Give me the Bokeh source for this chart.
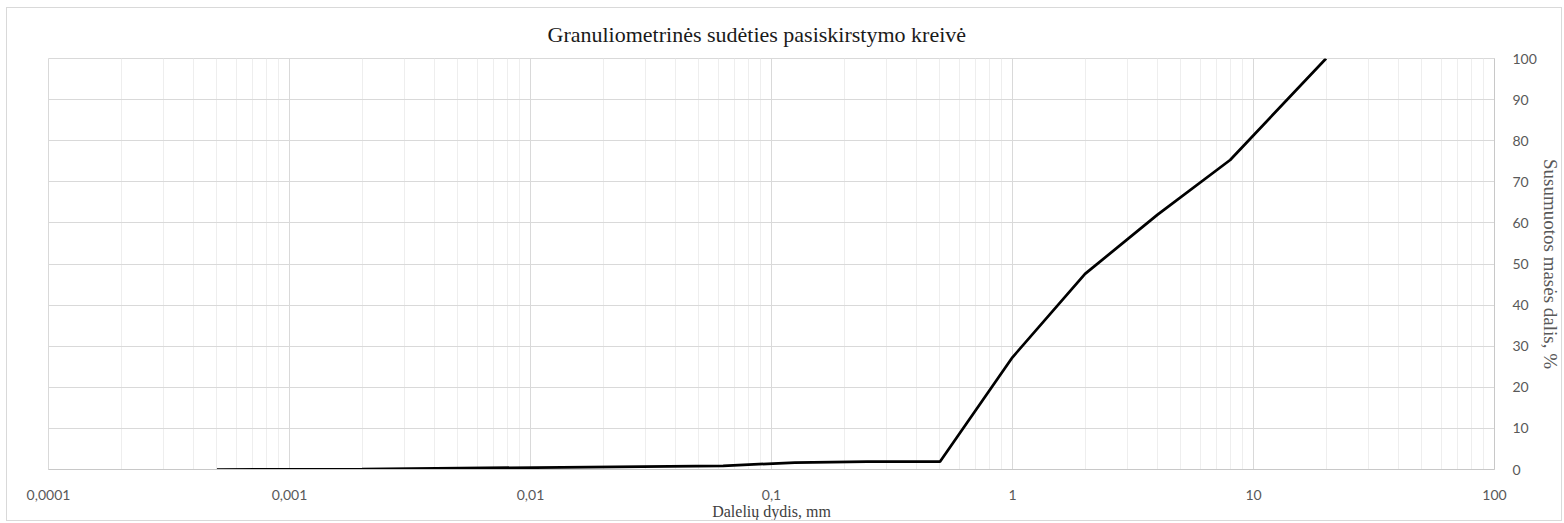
from bokeh.plotting import figure
from bokeh.models import FixedTicker, CustomJSTickFormatter, Range1d
from bokeh.embed import file_html
from bokeh.resources import INLINE

# Data
particle_size_mm = [0.0005, 0.002, 0.063, 0.125, 0.25, 0.5, 1, 2, 4, 8, 20]
cumulative_pct = [0.0, 0.1, 0.9, 1.7, 1.9, 1.9, 27.3, 47.6, 62.0, 75.3, 100.0]

x_ticks = [0.0001, 0.001, 0.01, 0.1, 1, 10, 100]
x_tick_labels = ["0,0001", "0,001", "0,01", "0,1", "1", "10", "100"]
y_ticks = [0, 10, 20, 30, 40, 50, 60, 70, 80, 90, 100]

title_text = "Granuliometrinės sudėties pasiskirstymo kreivė"
x_label = "Dalelių dydis, mm"
y_label = "Susumuotos masės dalis, %"

p = figure(width=1556, height=514, x_axis_type="log", y_axis_location="right",
           x_range=Range1d(0.0001, 100), y_range=Range1d(0, 100),
           output_backend="svg", toolbar_location=None,
           min_border_left=41, min_border_top=50, min_border_right=69, min_border_bottom=53)

p.title.text = title_text
p.title.align = "left"
p.title.offset = 499
p.title.text_font = "Liberation Serif"
p.title.text_font_size = "22px"
p.title.text_font_style = "normal"
p.title.text_color = "#1a1a1a"
p.title.standoff = 23

minor = [k * 10.0 ** e for e in range(-4, 2) for k in range(2, 10)]
p.xaxis.ticker = FixedTicker(ticks=x_ticks, minor_ticks=minor)
p.xaxis.formatter = CustomJSTickFormatter(args=dict(vals=x_ticks, labs=x_tick_labels), code="""
    for (let i = 0; i < vals.length; i++) {
        if (Math.abs(Math.log10(tick) - Math.log10(vals[i])) < 1e-6) return labs[i];
    }
    return '';
""")
p.yaxis.ticker = FixedTicker(ticks=y_ticks)

for ax in (p.xaxis, p.yaxis):
    ax.major_tick_line_color = None
    ax.minor_tick_line_color = None
    ax.axis_line_color = "#c8c8c8"
    ax.major_label_text_font = "Lato"
    ax.major_label_text_font_size = "14px"
    ax.major_label_text_color = "#595959"
    ax.axis_label_text_font = "Liberation Serif"
    ax.axis_label_text_font_size = "16px"
    ax.axis_label_text_font_style = "normal"
    ax.axis_label_text_color = "#404040"

p.xaxis.axis_label = x_label
p.xaxis.major_label_standoff = 14
p.xaxis.axis_label_standoff = 0
p.yaxis.axis_label = y_label
p.yaxis.axis_label_text_font_size = "19px"
p.yaxis.axis_label_text_color = "#595959"
p.yaxis.major_label_standoff = 12
p.yaxis.axis_label_standoff = 0

p.xgrid.grid_line_color = "#d9d9d9"
p.xgrid.minor_grid_line_color = "#eeeeee"
p.ygrid.grid_line_color = "#d9d9d9"
p.outline_line_color = "#d9d9d9"
p.styles = {"border": "1px solid #d9d9d9", "margin-left": "6px", "margin-top": "7px"}

p.line(particle_size_mm, cumulative_pct, line_color="black", line_width=2.75)

open("out.html", "w").write(file_html(p, INLINE))
